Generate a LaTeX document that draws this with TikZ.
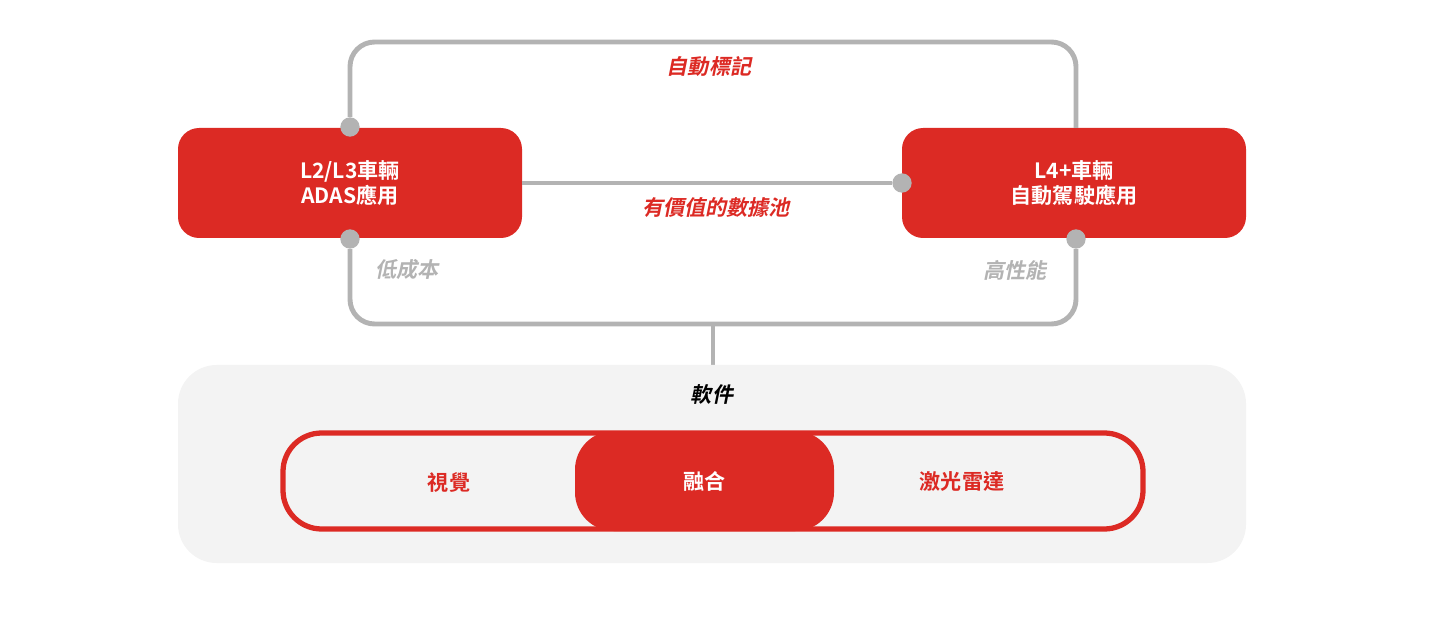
\documentclass[tikz,border=0pt]{standalone}
\usepackage{fontspec}
\setmainfont{Liberation Serif}
\newfontfamily\cjk{Noto Sans CJK TC}[BoldFont={* Bold}]
\newfontfamily\cjkit{Noto Sans CJK TC}[BoldFont={* Bold},FakeSlant=0.2,BoldFeatures={FakeSlant=0.2}]
\definecolor{myred}{HTML}{DC2A24}
\definecolor{mygray}{HTML}{B3B3B3}
\definecolor{mybg}{HTML}{F3F3F3}
\tikzstyle{car}=[fill=myred,rounded corners=12pt,minimum width=6.88cm,minimum height=2.2cm,text=white,font=\bfseries\cjk\large,align=center]
\tikzstyle{link}=[draw=mygray,line width=2.8pt,rounded corners=14pt]
\tikzstyle{dot}=[circle,fill=mygray,minimum size=11pt,inner sep=0pt]
\tikzstyle{redlabel}=[text=myred,font=\bfseries\cjkit\large]
\tikzstyle{graylabel}=[text=mygray,font=\bfseries\cjkit\large]
\tikzstyle{sensor}=[text=myred,font=\bfseries\cjk\large]

\begin{document}
\begin{tikzpicture}
                  \useasboundingbox (0,0) rectangle (28.7,12.38);
                  % the two vehicle classes
                  \node[car] (l23) at (7,8.72) {L2/L3車輛\\ADAS應用};
                  \node[car] (l4) at (21.48,8.72) {L4+車輛\\自動駕駛應用};
                  % dots on the boxes
                  \node[dot] (ltop) at (7,9.84) {};
                  \node[dot] (lbot) at (7,7.6) {};
                  \node[dot] (rbot) at (21.52,7.6) {};
                  \node[dot] (rmid) at (18.04,8.72) {};
                  \coordinate (rtop) at (21.52,9.82);
                  % connecting lines
                  \path[link] (ltop) |- (14.2,11.54) -| (rtop);
                  \path[link] (l23.east) -- (rmid);
                  \path[link] (lbot) |- (14.2,5.9) -| (rbot);
                  \coordinate (stem) at (14.26,5.9);
                  \coordinate (soft) at (14.26,5.08);
                  \path[draw=mygray,line width=2.8pt] (stem) -- (soft);
                  % labels on the lines
                  \node[redlabel] (tag) at (14.18,11.06) {自動標記};
                  \node[redlabel] (pool) at (14.32,8.22) {有價值的數據池};
                  \node[graylabel] (cost) at (8.14,6.98) {低成本};
                  \node[graylabel] (perf) at (20.3,6.98) {高性能};
                  % software block
                  \node[fill=mybg,rounded corners=22pt,minimum width=21.36cm,minimum height=3.96cm] (sw) at (14.24,5.08-1.98) {};
                  \node[font=\bfseries\cjkit\large] (swname) at (14.24,4.5) {軟件};
                  \node[draw=myred,line width=3pt,rounded corners=22pt,minimum width=17.2cm,minimum height=1.92cm] (ring) at (14.26,2.76) {};
                  \node[fill=myred,rounded corners=22pt,minimum width=5.18cm,minimum height=2cm,text=white,font=\bfseries\cjk\large] (fusion) at (14.09,2.76) {融合};
                  \node[sensor] (vision) at (8.98,2.74) {視覺};
                  \node[sensor] (lidar) at (19.24,2.74) {激光雷達};
            \end{tikzpicture}
\end{document}
